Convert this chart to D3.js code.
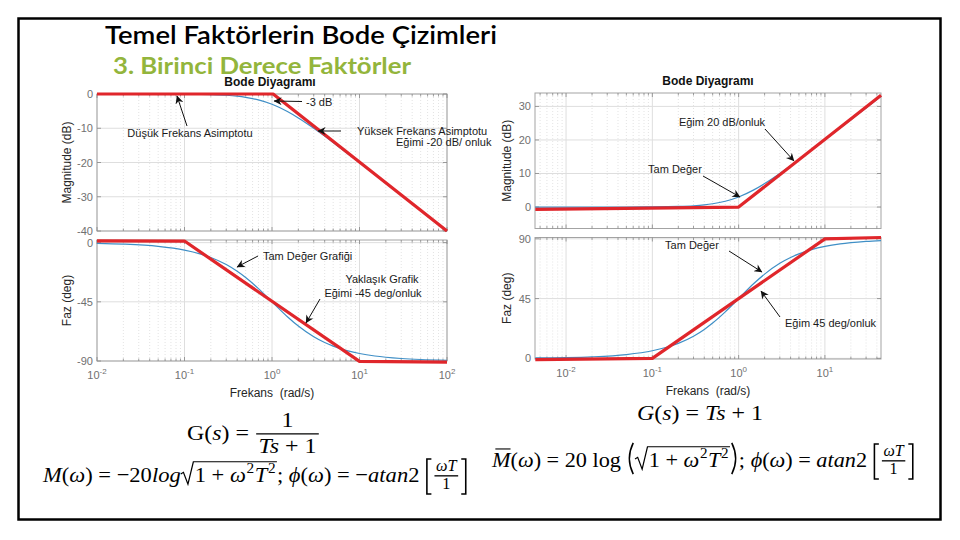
<!DOCTYPE html>
<html>
<head>
<meta charset="utf-8">
<script src="https://cdn.jsdelivr.net/npm/d3@7"></script>
<style>
  body { margin: 0; background: #fff; }
  svg { display: block; }
  text { white-space: pre; }
</style>
</head>
<body>
<svg id="slide" width="960" height="540"></svg>
<script>

// ---- data ----
// left: G(s) = 1/(Ts+1)
var wLeft     = [0.01, 0.02, 0.05, 0.1, 0.15, 0.2, 0.3, 0.4, 0.5, 0.7, 1, 1.5, 2, 3, 4, 5, 7, 10, 15, 20, 30, 50, 100];
var magLeft   = [0, 0, -0.01, -0.04, -0.1, -0.17, -0.37, -0.64, -0.97, -1.73, -3.01, -5.12, -6.99, -10, -12.3, -14.15, -16.99, -20.04, -23.54, -26.03, -29.55, -33.98, -40];
var phaseLeft = [-0.57, -1.15, -2.86, -5.71, -8.53, -11.31, -16.7, -21.8, -26.57, -34.99, -45, -56.31, -63.43, -71.57, -75.96, -78.69, -81.87, -84.29, -86.19, -87.14, -88.09, -88.85, -89.43];

// right: G(s) = Ts+1
var wRight     = [0.0044, 0.01, 0.02, 0.05, 0.1, 0.15, 0.2, 0.3, 0.4, 0.5, 0.7, 1, 1.5, 2, 3, 4, 5, 7, 10, 15, 20, 30, 44.7];
var magRight   = [0, 0, 0, 0.01, 0.04, 0.1, 0.17, 0.37, 0.64, 0.97, 1.73, 3.01, 5.12, 6.99, 10, 12.3, 14.15, 16.99, 20.04, 23.54, 26.03, 29.55, 33.0];
var phaseRight = [0.3, 0.57, 1.15, 2.86, 5.71, 8.53, 11.31, 16.7, 21.8, 26.57, 34.99, 45, 56.31, 63.43, 71.57, 75.96, 78.69, 81.87, 84.29, 86.19, 87.14, 88.09, 88.72];

// hand drawn red asymptotes
var asymLeftMagW    = [0.01, 1.03, 100];
var asymLeftMag     = [0, 0, -40];
var asymLeftPhaseW  = [0.01, 0.1, 10, 100];
var asymLeftPhase   = [1.4, 1.2, -90.3, -90.8];
var asymRightMagW   = [0.0044, 1, 44.7];
var asymRightMag    = [-0.7, 0, 33.3];
var asymRightPhaseW = [0.0044, 0.1, 10, 44.7];
var asymRightPhase  = [-1, 0, 90, 91];

// tick labels
var decadesLeft     = [-2, -1, 0, 1, 2];
var decadesRight    = [-2, -1, 0, 1];
var magTicksLeft    = [0, -10, -20, -30, -40];
var phaseTicksLeft  = [0, -45, -90];
var magTicksRight   = [0, 10, 20, 30];
var phaseTicksRight = [0, 45, 90];

var SANS = "'Liberation Sans', Arial, sans-serif";
var svg = d3.select("#slide");
svg.append("rect").attr("width", 960).attr("height", 540).attr("fill", "#fff");

var defs = svg.append("defs");
defs.append("marker")
  .attr("id", "ah")
  .attr("viewBox", "0 0 10 10")
  .attr("refX", 9.5).attr("refY", 5)
  .attr("markerUnits", "userSpaceOnUse")
  .attr("markerWidth", 11).attr("markerHeight", 8)
  .attr("orient", "auto")
  .append("path")
  .attr("d", "M0,0 L10,5 L0,10 L3,5 Z")
  .attr("fill", "#111");
defs.append("clipPath").attr("id", "leftclip")
  .append("rect").attr("x", 0).attr("y", 0).attr("width", 494).attr("height", 540);

// slide frame
svg.append("rect")
  .attr("x", 18.5).attr("y", 18.5).attr("width", 922).attr("height", 501)
  .attr("fill", "none").attr("stroke", "#000").attr("stroke-width", 2.5);

// slide titles
svg.append("text")
  .attr("x", 105).attr("y", 44)
  .attr("font-family", "Lato, 'Open Sans', sans-serif")
  .attr("font-size", 25).attr("font-weight", 600)
  .attr("textLength", 392).attr("lengthAdjust", "spacingAndGlyphs")
  .attr("fill", "#000")
  .text("Temel Faktörlerin Bode Çizimleri");
svg.append("text")
  .attr("x", 113).attr("y", 74)
  .attr("font-family", "Lato, 'Open Sans', sans-serif")
  .attr("font-size", 22).attr("font-weight", 700)
  .attr("textLength", 298).attr("lengthAdjust", "spacingAndGlyphs")
  .attr("fill", "#93b53c")
  .text("3. Birinci Derece Faktörler");

// one MATLAB-style axes box
function panel(o) {
  var x = o.x, y = o.y, g = svg.append("g");
  var L = x.range()[0], R = x.range()[1], B = y.range()[0], T = y.range()[1];
  var d0 = x.domain()[0], d1 = x.domain()[1];
  var major = [], minor = [];
  for (var e = Math.floor(Math.log10(d0)); e <= Math.ceil(Math.log10(d1)); e++) {
    for (var k = 1; k < 10; k++) {
      var v = k * Math.pow(10, e);
      if (v >= d0 * 0.999 && v <= d1 * 1.001) (k == 1 ? major : minor).push(v);
    }
  }

  g.append("rect").attr("x", L).attr("y", T).attr("width", R - L).attr("height", B - T).attr("fill", "#fff");

  // grid
  g.selectAll(".minor").data(minor).enter().append("line")
    .attr("x1", function(d) { return x(d); }).attr("x2", function(d) { return x(d); })
    .attr("y1", T).attr("y2", B)
    .attr("stroke", "#dcdcdc").attr("stroke-width", 0.8).attr("stroke-dasharray", "1,2");
  g.selectAll(".majx").data(major).enter().append("line")
    .attr("x1", function(d) { return x(d); }).attr("x2", function(d) { return x(d); })
    .attr("y1", T).attr("y2", B)
    .attr("stroke", "#dedede").attr("stroke-width", 1);
  g.selectAll(".majy").data(o.yTicks).enter().append("line")
    .attr("x1", L).attr("x2", R)
    .attr("y1", function(d) { return y(d); }).attr("y2", function(d) { return y(d); })
    .attr("stroke", "#dedede").attr("stroke-width", 1);

  // frame + ticks
  g.append("rect").attr("x", L).attr("y", T).attr("width", R - L).attr("height", B - T)
    .attr("fill", "none").attr("stroke", "#a3a3a3").attr("stroke-width", 1);
  var tk = [];
  major.forEach(function(v) { tk.push([v, 4]); });
  minor.forEach(function(v) { tk.push([v, 2.5]); });
  g.selectAll(".tkb").data(tk).enter().append("line")
    .attr("x1", function(d) { return x(d[0]); }).attr("x2", function(d) { return x(d[0]); })
    .attr("y1", B).attr("y2", function(d) { return B - d[1]; })
    .attr("stroke", "#888").attr("stroke-width", 0.8);
  g.selectAll(".tkt").data(tk).enter().append("line")
    .attr("x1", function(d) { return x(d[0]); }).attr("x2", function(d) { return x(d[0]); })
    .attr("y1", T).attr("y2", function(d) { return T + d[1]; })
    .attr("stroke", "#888").attr("stroke-width", 0.8);
  g.selectAll(".tky").data(o.yTicks).enter().append("path")
    .attr("d", function(d) { return "M" + L + "," + y(d) + "h4M" + R + "," + y(d) + "h-4"; })
    .attr("stroke", "#888").attr("stroke-width", 0.8);

  // curves
  var line = d3.line()
    .x(function(d) { return x(d[0]); })
    .y(function(d) { return y(d[1]); });
  g.append("path")
    .datum(o.w.map(function(w, i) { return [w, o.exact[i]]; }))
    .attr("d", line.curve(d3.curveMonotoneX))
    .attr("fill", "none").attr("stroke", "#3f8fc6").attr("stroke-width", 1.2);
  g.append("path")
    .datum(o.asymW.map(function(w, i) { return [w, o.asym[i]]; }))
    .attr("d", line.curve(d3.curveLinear))
    .attr("fill", "none").attr("stroke", "#e0262b").attr("stroke-width", 3.2)
    .attr("stroke-linejoin", "round");

  // y tick labels
  g.selectAll(".yl").data(o.yTicks).enter().append("text")
    .attr("x", L - 4).attr("y", function(d) { return y(d) + 4; })
    .attr("text-anchor", "end")
    .attr("font-family", SANS).attr("font-size", 11).attr("fill", "#707070")
    .text(function(d) { return d; });

  // y axis title
  g.append("text")
    .attr("transform", "translate(" + o.yTitleX + "," + ((T + B) / 2) + ") rotate(-90)")
    .attr("text-anchor", "middle")
    .attr("font-family", SANS).attr("font-size", 12).attr("fill", "#262626")
    .text(o.yTitle);

  if (o.exps) {
    var lab = g.selectAll(".xl").data(o.exps).enter().append("text")
      .attr("x", function(d) { return x(Math.pow(10, d)); })
      .attr("y", B + 18)
      .attr("text-anchor", "middle")
      .attr("font-family", SANS).attr("font-size", 11).attr("fill", "#707070");
    lab.append("tspan").text("10");
    lab.append("tspan").attr("dy", -5).attr("font-size", 8).text(function(d) { return d; });
    g.append("text")
      .attr("x", (L + R) / 2).attr("y", B + 36)
      .attr("text-anchor", "middle")
      .attr("font-family", SANS).attr("font-size", 12).attr("fill", "#262626")
      .text("Frekans  (rad/s)");
  }
  if (o.title) {
    g.append("text")
      .attr("x", o.titleX).attr("y", T - 8)
      .attr("text-anchor", "middle")
      .attr("font-family", SANS).attr("font-size", 12).attr("font-weight", "bold").attr("fill", "#111")
      .text(o.title);
  }
}

var xLeft  = d3.scaleLog().domain([0.01, 100]).range([97, 447]);
var xRight = d3.scaleLog().domain([Math.pow(10, -2.36), Math.pow(10, 1.65)]).range([535, 881]);

panel({ x: xLeft, y: d3.scaleLinear().domain([-40, 0]).range([231, 94]), yTicks: magTicksLeft,
        w: wLeft, exact: magLeft, asymW: asymLeftMagW, asym: asymLeftMag,
        yTitle: "Magnitude (dB)", yTitleX: 71, title: "Bode Diyagramı", titleX: 270 });
panel({ x: xLeft, y: d3.scaleLinear().domain([-90, 2]).range([361, 240]), yTicks: phaseTicksLeft,
        w: wLeft, exact: phaseLeft, asymW: asymLeftPhaseW, asym: asymLeftPhase,
        yTitle: "Faz (deg)", yTitleX: 71, exps: decadesLeft });
panel({ x: xRight, y: d3.scaleLinear().domain([-6.4, 34]).range([228.5, 93]), yTicks: magTicksRight,
        w: wRight, exact: magRight, asymW: asymRightMagW, asym: asymRightMag,
        yTitle: "Magnitude (dB)", yTitleX: 511, title: "Bode Diyagramı", titleX: 708 });
panel({ x: xRight, y: d3.scaleLinear().domain([-0.5, 91]).range([359, 237.5]), yTicks: phaseTicksRight,
        w: wRight, exact: phaseRight, asymW: asymRightPhaseW, asym: asymRightPhase,
        yTitle: "Faz (deg)", yTitleX: 511, exps: decadesRight });

// annotations
var notes = svg.append("g").attr("font-family", SANS).attr("font-size", 11).attr("fill", "#1a1a1a");
var leftNotes = notes.append("g").attr("clip-path", "url(#leftclip)");
function note(g, txt, x, y, anchor) {
  g.append("text").attr("x", x).attr("y", y).attr("text-anchor", anchor || "start").text(txt);
}
function arrow(g, x1, y1, x2, y2) {
  g.append("line").attr("x1", x1).attr("y1", y1).attr("x2", x2).attr("y2", y2)
    .attr("stroke", "#111").attr("stroke-width", 1).attr("marker-end", "url(#ah)");
}
note(leftNotes, "-3 dB", 306, 106);
arrow(leftNotes, 302, 101.5, 274, 101);
note(leftNotes, "Düşük Frekans Asimptotu", 190, 137, "middle");
arrow(leftNotes, 187, 126, 177, 96);
note(leftNotes, "Yüksek Frekans Asimptotu", 357, 135);
note(leftNotes, "Eğimi -20 dB/ onluk", 396, 146);
arrow(leftNotes, 341, 131, 318, 131);
note(leftNotes, "Tam Değer Grafiği", 263, 260);
arrow(leftNotes, 258, 256, 237, 267);
note(leftNotes, "Yaklaşık Grafik", 382, 283, "middle");
note(leftNotes, "Eğimi -45 deg/onluk", 373, 297, "middle");
arrow(leftNotes, 320, 299, 306, 323);

note(notes, "Eğim 20 dB/onluk", 722, 126, "middle");
arrow(notes, 765, 129, 794, 161);
note(notes, "Tam Değer", 675, 173, "middle");
arrow(notes, 703, 176, 740, 197);
note(notes, "Tam Değer", 692, 249, "middle");
arrow(notes, 729, 251, 762, 272);
note(notes, "Eğim 45 deg/onluk", 785, 327);
arrow(notes, 780, 317, 761, 291);

// ---- equations ----
function lay(g, parts, x, y, fs) {
  var cx = x;
  parts.forEach(function(p) {
    if (typeof p == "string") p = { t: p };
    if (p.t != null) {
      var t = g.append("text").attr("x", cx).attr("y", y).attr("font-size", fs)
        .attr("font-style", p.i ? "italic" : null).text(p.t);
      var w = t.node().getComputedTextLength();
      if (p.bar) {
        g.append("line").attr("x1", cx + fs * 0.15).attr("x2", cx + w)
          .attr("y1", y - fs * 0.82).attr("y2", y - fs * 0.82)
          .attr("stroke", "#000").attr("stroke-width", fs * 0.05);
      }
      cx += w;
    } else if (p.sup != null) {
      var s = g.append("text").attr("x", cx + fs * 0.03).attr("y", y - fs * 0.42).attr("font-size", fs * 0.68).text(p.sup);
      cx += s.node().getComputedTextLength() + fs * 0.05;
    } else if (p.frac) {
      var f = fs * (p.s || 1), axis = y - fs * 0.28;
      var gn = g.append("g"), gd = g.append("g");
      var wn = lay(gn, p.frac[0], 0, 0, f), wd = lay(gd, p.frac[1], 0, 0, f);
      var wm = Math.max(wn, wd) + f * 0.3;
      gn.attr("transform", "translate(" + (cx + (wm - wn) / 2) + "," + (axis - f * 0.3) + ")");
      gd.attr("transform", "translate(" + (cx + (wm - wd) / 2) + "," + (axis + f * 0.86) + ")");
      g.append("line").attr("x1", cx + f * 0.05).attr("x2", cx + wm - f * 0.05)
        .attr("y1", axis).attr("y2", axis).attr("stroke", "#000").attr("stroke-width", fs * 0.06);
      cx += wm;
    } else if (p.sqrt) {
      var top = y - fs * 0.92;
      var rw = lay(g, p.sqrt, cx + fs * 0.62, y, fs);
      g.append("path")
        .attr("d", "M" + cx + "," + (y - fs * 0.36) + "L" + (cx + fs * 0.12) + "," + (y - fs * 0.44) +
                   "L" + (cx + fs * 0.32) + "," + (y + fs * 0.1) + "L" + (cx + fs * 0.56) + "," + top +
                   "L" + (cx + fs * 0.62 + rw + fs * 0.04) + "," + top)
        .attr("fill", "none").attr("stroke", "#000").attr("stroke-width", fs * 0.055);
      cx += fs * 0.66 + rw;
    } else if (p.br || p.paren) {
      var inner = p.br || p.paren, tp, bt, pw = fs * 0.38;
      if (p.br) { tp = y - fs * 1.05; bt = y + fs * 0.55; } else { tp = y - fs * 1.1; bt = y + fs * 0.32; }
      var iw = lay(g, inner, cx + pw, y, fs);
      var rx = cx + pw + iw + fs * 0.06;
      var d;
      if (p.br) {
        d = "M" + (cx + fs * 0.28) + "," + tp + "H" + (cx + fs * 0.08) + "V" + bt + "H" + (cx + fs * 0.28) +
            "M" + (rx + fs * 0.04) + "," + tp + "H" + (rx + fs * 0.24) + "V" + bt + "H" + (rx + fs * 0.04);
      } else {
        var m = (tp + bt) / 2;
        d = "M" + (cx + fs * 0.3) + "," + tp + "Q" + (cx - fs * 0.05) + "," + m + "," + (cx + fs * 0.3) + "," + bt +
            "M" + (rx + fs * 0.02) + "," + tp + "Q" + (rx + fs * 0.37) + "," + m + "," + (rx + fs * 0.02) + "," + bt;
      }
      g.append("path").attr("d", d).attr("fill", "none").attr("stroke", "#000").attr("stroke-width", fs * 0.07);
      cx = rx + fs * 0.34;
    }
  });
  return cx - x;
}

function equation(parts, x0, x1, base, fs) {
  var g = svg.append("g").attr("font-family", "'Liberation Serif', 'DejaVu Serif', serif").attr("fill", "#000");
  var inner = g.append("g");
  var w = lay(inner, parts, 0, 0, fs);
  g.attr("transform", "translate(" + x0 + "," + base + ") scale(" + ((x1 - x0) / w) + ",1)");
}

var radicand = ["1 + ", { t: "ω", i: 1 }, { sup: "2" }, { t: "T", i: 1 }, { sup: "2" }];
var wT = { br: [{ frac: [[{ t: "ωT", i: 1 }], ["1"]], s: 0.72 }] };

equation(["G(", { t: "s", i: 1 }, ") = ", { frac: [["1"], [{ t: "Ts", i: 1 }, " + 1"]] }], 187, 320, 440, 22);
equation([{ t: "M", i: 1 }, "(", { t: "ω", i: 1 }, ") = −20", { t: "log", i: 1 }, { sqrt: radicand }, "; ",
          { t: "ϕ", i: 1 }, "(", { t: "ω", i: 1 }, ") = −", { t: "atan", i: 1 }, "2 ", wT], 43, 468, 482, 22);
equation([{ t: "G", i: 1 }, "(", { t: "s", i: 1 }, ") = ", { t: "Ts", i: 1 }, " + 1"], 637, 763, 420, 22);
equation([{ t: "M", i: 1, bar: 1 }, "(", { t: "ω", i: 1 }, ") = 20 log ", { paren: [{ sqrt: radicand }] }, "; ",
          { t: "ϕ", i: 1 }, "(", { t: "ω", i: 1 }, ") = ", { t: "atan", i: 1 }, "2 ", wT], 492, 915, 467, 22);

</script>
</body>
</html>
